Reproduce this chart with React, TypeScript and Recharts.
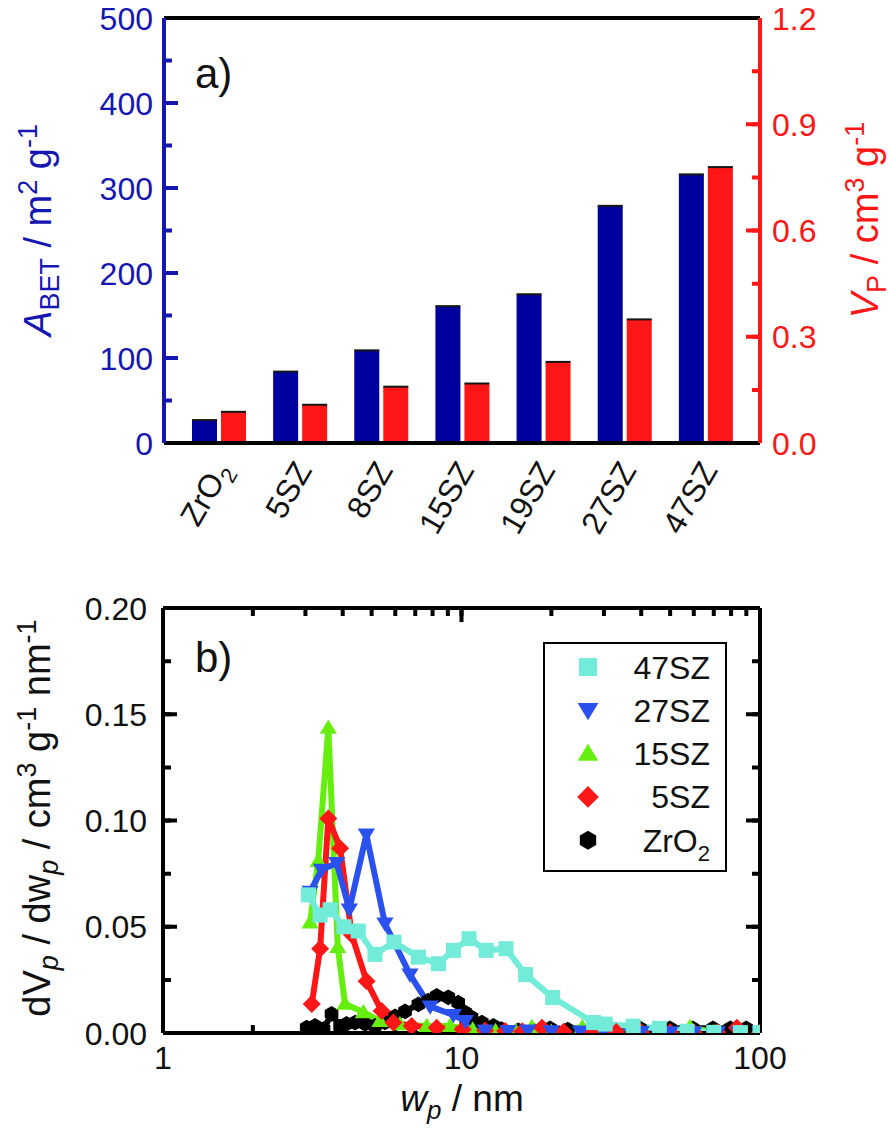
import React from "react";
import { ComposedChart, Bar, LineChart, Line, XAxis, YAxis, ReferenceLine, CartesianGrid, Legend } from "recharts";

const FONT = '"Liberation Sans", Arial, Helvetica, sans-serif';
const NAVY = "#00009e";
const BLUE_TXT = "#1616b0";
const RED = "#ff1616";
const CYAN = "#72ecd8";
const BLUE = "#2a50ee";
const GREEN = "#66ee10";

// ---- panel a: BET area / pore volume per sample
const SAMPLES = ["ZrO2", "5SZ", "8SZ", "15SZ", "19SZ", "27SZ", "47SZ"];
const A_BET = [27, 84, 109, 161, 175, 279, 316];
const V_P = [0.088, 0.108, 0.159, 0.168, 0.229, 0.349, 0.779];
const A_TICKS = [0, 50, 100, 150, 200, 250, 300, 350, 400, 450, 500];
const A_MAJOR = [0, 100, 200, 300, 400, 500];
const V_TICKS = [0, 0.15, 0.3, 0.45, 0.6, 0.75, 0.9, 1.05, 1.2];
const V_MAJOR = [0, 0.3, 0.6, 0.9, 1.2];

// ---- panel b: pore size distributions
const W_47 = [3.07, 3.36, 3.63, 4.04, 4.51, 5.13, 5.94, 7.17, 8.37, 9.39, 10.6, 12.1, 14.1, 16.4, 20.2, 27.7, 30.3, 37.6, 46, 57, 70, 86, 100];
const V_47 = [0.065, 0.0555, 0.058, 0.05, 0.048, 0.037, 0.0428, 0.0357, 0.0326, 0.0389, 0.0444, 0.0389, 0.0397, 0.0275, 0.0167, 0.0049, 0.0042, 0.0032, 0.0022, 0.0008, 0.0003, 0.0002, 0.0002];
const W_27 = [3.11, 3.4, 3.82, 4.21, 4.8, 5.54, 6.72, 7.85, 9.39, 10.3, 12.0, 14.3, 16.7, 20, 25, 30, 40, 50, 60, 72, 85, 100];
const V_27 = [0.0665, 0.0768, 0.08, 0.0581, 0.0934, 0.0515, 0.0275, 0.0125, 0.0085, 0.0057, 0.0012, 0.001, 0.0012, 0.0008, 0.0007, 0.0006, 0.0005, 0.0004, 0.0003, 0.0003, 0.0002, 0.0002];
const W_15 = [3.11, 3.31, 3.58, 3.85, 4.07, 4.69, 5.33, 6.22, 7.65, 9.15, 10.9, 13.0, 15.2, 17.2, 20.0, 25.4, 30, 40, 50, 58.3, 70, 85, 100];
const V_15 = [0.052, 0.081, 0.1436, 0.0405, 0.0138, 0.0098, 0.0057, 0.0041, 0.0033, 0.0033, 0.0016, 0.001, 0.0008, 0.0028, 0.0006, 0.0028, 0.0005, 0.0004, 0.0004, 0.0028, 0.0003, 0.0003, 0.0002];
const W_5 = [3.15, 3.36, 3.58, 3.92, 4.29, 4.81, 5.4, 5.91, 6.81, 8.26, 10.1, 12.0, 14.0, 16.0, 18.6, 22.0, 27.0, 33.0, 40.0, 50.0, 60.0, 72.0, 83.7, 100];
const V_5 = [0.0136, 0.0397, 0.101, 0.087, 0.0462, 0.0243, 0.0104, 0.0049, 0.0033, 0.0025, 0.0017, 0.0012, 0.001, 0.0008, 0.0025, 0.0006, 0.0005, 0.0005, 0.0004, 0.0004, 0.0003, 0.0003, 0.0025, 0.0002];
const W_0 = [3.03, 3.23, 3.45, 3.67, 3.92, 4.12, 4.4, 4.75, 5.13, 5.54, 5.99, 6.47, 7.17, 7.74, 8.26, 9.03, 9.75, 10.3, 10.8, 11.7, 12.8, 13.6, 15.5, 17.5, 19.8, 22.7, 29.5, 39.6, 49.9, 59.5, 69.6, 79.5, 89.9];
const V_0 = [0.0025, 0.0033, 0.0018, 0.009, 0.003, 0.0043, 0.0049, 0.0043, 0.0033, 0.005, 0.0078, 0.0102, 0.0135, 0.0152, 0.0175, 0.0168, 0.0143, 0.0096, 0.0073, 0.0049, 0.0033, 0.0018, 0.0012, 0.001, 0.0022, 0.0016, 0.0022, 0.0022, 0.0022, 0.0022, 0.0022, 0.0022, 0.0022];
const X_TICKS = [1, 2, 3, 4, 5, 6, 7, 8, 9, 10, 20, 30, 40, 50, 60, 70, 80, 90, 100];
const X_MAJOR = [1, 10, 100];
const Y_TICKS = [0, 0.025, 0.05, 0.075, 0.1, 0.125, 0.15, 0.175, 0.2];
const Y_MAJOR = [0, 0.05, 0.1, 0.15, 0.2];

const LEGEND_ORDER = ["47SZ", "27SZ", "15SZ", "5SZ", "ZrO2"];

// plot box of panel a (chart coords) and panel b (chart coords, chart b sits at top 560)
const AL = 164, AR = 760, AT = 18, AB = 443;
const BL = 163, BR = 760, BT = 48, BB = 473;
const AX_H = 30, AX_W = 40;
const MINOR = 8, MAJOR = 14, LW = 4;
const AW = AR - AL, BW = BR - BL, BH = BB - BT;

const barRows = SAMPLES.map((name, i) => ({ name, a: A_BET[i], v: V_P[i] }));
const pts = (w: number[], v: number[]) => w.map((x, i) => ({ w: x, v: v[i] }));

const SERIES = [
  { name: "ZrO2", data: pts(W_0, V_0), color: "#000", shape: "hex" },
  { name: "15SZ", data: pts(W_15, V_15), color: GREEN, shape: "up" },
  { name: "5SZ", data: pts(W_5, V_5), color: RED, shape: "diamond" },
  { name: "27SZ", data: pts(W_27, V_27), color: BLUE, shape: "down" },
  { name: "47SZ", data: pts(W_47, V_47), color: CYAN, shape: "square" },
];

function Mark({ shape, cx, cy, fill, s }: { shape: string; cx: number; cy: number; fill: string; s: number }) {
  if (cx == null || cy == null) return null;
  const h = s / 2;
  if (shape === "square") return <rect x={cx - h} y={cy - h} width={s} height={s} fill={fill} />;
  if (shape === "down") return <path d={`M${cx - h * 1.15},${cy - h * 0.8} L${cx + h * 1.15},${cy - h * 0.8} L${cx},${cy + h * 1.1} Z`} fill={fill} />;
  if (shape === "up") return <path d={`M${cx - h * 1.15},${cy + h * 0.8} L${cx + h * 1.15},${cy + h * 0.8} L${cx},${cy - h * 1.1} Z`} fill={fill} />;
  if (shape === "diamond") return <path d={`M${cx},${cy - h * 1.2} L${cx + h * 1.2},${cy} L${cx},${cy + h * 1.2} L${cx - h * 1.2},${cy} Z`} fill={fill} />;
  const p = [90, 150, 210, 270, 330, 30].map((a) => {
    const r = (a * Math.PI) / 180;
    return `${cx + h * 1.05 * Math.cos(r)},${cy - h * 1.05 * Math.sin(r)}`;
  });
  return <polygon points={p.join(" ")} fill={fill} />;
}

const EdgedBar = (props: any) => {
  const { x, y, width, height, fill } = props;
  return (
    <g>
      <rect x={x} y={y} width={width} height={height} fill={fill} />
      <rect x={x} y={y - 1} width={width} height={2} fill="#151515" />
    </g>
  );
};

const Blank = () => <g />;

const SampleTick = ({ x, payload }: any) => {
  const tx = Number(x) + 13, ty = AB + 27;
  const name = payload.value as string;
  return (
    <text x={tx} y={ty} transform={`rotate(-60, ${tx}, ${ty})`} textAnchor="end" fontSize={32} fill="#111">
      {name === "ZrO2" ? (
        <>
          <tspan>ZrO</tspan>
          <tspan dy={8} fontSize={22}>2</tspan>
        </>
      ) : name}
    </text>
  );
};

const LeftLabelA = ({ y, payload }: any) => (
  <text x={AL - 11} y={y} dy="0.36em" textAnchor="end" fontSize={32} fill={BLUE_TXT}>{payload.value}</text>
);

const RightLabelA = ({ y, payload }: any) => (
  <text x={AR + 12} y={y} dy="0.36em" textAnchor="start" fontSize={32} fill={RED}>{(payload.value as number).toFixed(1)}</text>
);

const XLabelB = ({ x, payload }: any) => (
  <text x={x} y={BB + 36} textAnchor="middle" fontSize={32} fill="#111">{payload.value}</text>
);

const YLabelB = ({ y, payload }: any) => (
  <text x={BL - 16} y={y} dy="0.36em" textAnchor="end" fontSize={32} fill="#111">{(payload.value as number).toFixed(2)}</text>
);

function LegendBox() {
  return (
    <svg width={184} height={230} style={{ display: "block" }}>
      <rect x={1} y={1} width={182} height={228} fill="#fff" stroke="#000" strokeWidth={2} />
      {LEGEND_ORDER.map((n, i) => {
        const s = SERIES.find((d) => d.name === n)!;
        const cy = 25 + i * 43.3;
        return (
          <g key={n}>
            <Mark shape={s.shape} cx={45} cy={cy} fill={s.color} s={18} />
            <text x={167} y={cy} dy="0.36em" textAnchor="end" fontSize={32} fill="#111">
              {n === "ZrO2" ? (
                <>
                  <tspan>ZrO</tspan>
                  <tspan dy={9} fontSize={22}>2</tspan>
                </>
              ) : n}
            </text>
          </g>
        );
      })}
    </svg>
  );
}

function Titles() {
  return (
    <svg width={892} height={1147} style={{ position: "absolute", left: 0, top: 0, pointerEvents: "none" }}>
      <text x={195} y={88} fontSize={42} fill="#111">a)</text>
      <text x={195} y={672} fontSize={42} fill="#111">b)</text>
      <text x={51} y={230} transform="rotate(-90, 51, 230)" textAnchor="middle" fontSize={38} fill={BLUE_TXT}>
        <tspan fontStyle="italic">A</tspan>
        <tspan dy={8} fontSize={27}>BET</tspan>
        <tspan dy={-8}>{" / m"}</tspan>
        <tspan dy={-14} fontSize={27}>2</tspan>
        <tspan dy={14}>{" g"}</tspan>
        <tspan dy={-14} fontSize={27}>-1</tspan>
      </text>
      <text x={878} y={220} transform="rotate(-90, 878, 220)" textAnchor="middle" fontSize={38} fill={RED}>
        <tspan fontStyle="italic">V</tspan>
        <tspan dy={8} fontSize={27}>P</tspan>
        <tspan dy={-8}>{" / cm"}</tspan>
        <tspan dy={-14} fontSize={27}>3</tspan>
        <tspan dy={14}>{" g"}</tspan>
        <tspan dy={-14} fontSize={27}>-1</tspan>
      </text>
      <text x={50} y={818} transform="rotate(-90, 50, 818)" textAnchor="middle" fontSize={38} fill="#111">
        <tspan>dV</tspan>
        <tspan dy={8} fontSize={27} fontStyle="italic">p</tspan>
        <tspan dy={-8}>{" / dw"}</tspan>
        <tspan dy={8} fontSize={27} fontStyle="italic">p</tspan>
        <tspan dy={-8}>{" / cm"}</tspan>
        <tspan dy={-14} fontSize={27}>3</tspan>
        <tspan dy={14}>{" g"}</tspan>
        <tspan dy={-14} fontSize={27}>-1</tspan>
        <tspan dy={14}>{" nm"}</tspan>
        <tspan dy={-14} fontSize={27}>-1</tspan>
      </text>
      <text x={462} y={1111} textAnchor="middle" fontSize={37} fill="#111">
        <tspan fontStyle="italic">w</tspan>
        <tspan dy={8} fontSize={26} fontStyle="italic">p</tspan>
        <tspan dy={-8}>{" / nm"}</tspan>
      </text>
    </svg>
  );
}

// zero-size axes used only as tick sources for the inward tick marks (drawn as dashed grid lines)
const yTickSrc = (id: string, side: "left" | "right", domain: number[], ticks: number[]) => (
  <YAxis key={id} yAxisId={id} orientation={side} mirror width={0} domain={domain} ticks={ticks} interval={0}
    allowDataOverflow axisLine={false} tickLine={false} tick={<Blank />} />
);
const xTickSrc = (id: string, ticks: number[]) => (
  <XAxis key={id} xAxisId={id} mirror height={0} type="number" scale="log" domain={[1, 100]} allowDataOverflow
    dataKey="w" ticks={ticks} interval={0} axisLine={false} tickLine={false} tick={<Blank />} />
);

// dash patterns: a short dash at one or both ends of each grid line
const leftOnly = (len: number) => `${len} 3000`;
const rightOnly = (len: number, span: number) => `0 ${span - len} ${len} 3000`;
const bothEnds = (len: number, span: number) => `${len} ${span - 2 * len} ${len} 3000`;

export default function App() {
  return (
    <div style={{ position: "absolute", left: 0, top: 0, width: 892, height: 1147, background: "#fff", fontFamily: FONT }}>
      <div style={{ position: "absolute", left: 0, top: 0 }}>
        <ComposedChart width={892} height={560} data={barRows} barGap={4} barSize={25}
          margin={{ top: AT, right: 892 - AR - AX_W, bottom: 560 - AB - AX_H, left: AL - AX_W }}>
          <XAxis dataKey="name" height={AX_H} interval={0} padding={{ left: 14, right: 14 }}
            axisLine={{ stroke: "#000", strokeWidth: LW }} tickLine={false} tick={<SampleTick />} />
          <YAxis yAxisId="l" width={AX_W} domain={[0, 500]} ticks={A_MAJOR} interval={0}
            axisLine={{ stroke: BLUE_TXT, strokeWidth: LW }} tickLine={false} tick={<LeftLabelA />} />
          <YAxis yAxisId="r" orientation="right" width={AX_W} domain={[0, 1.2]} ticks={V_MAJOR} interval={0}
            axisLine={{ stroke: RED, strokeWidth: LW }} tickLine={false} tick={<RightLabelA />} />
          {yTickSrc("lmin", "left", [0, 500], A_TICKS)}
          {yTickSrc("rmin", "right", [0, 1.2], V_TICKS)}
          <CartesianGrid yAxisId="lmin" vertical={false} stroke={BLUE_TXT} strokeWidth={LW} strokeDasharray={leftOnly(MINOR)} />
          <CartesianGrid yAxisId="l" vertical={false} stroke={BLUE_TXT} strokeWidth={LW} strokeDasharray={leftOnly(MAJOR)} />
          <CartesianGrid yAxisId="rmin" vertical={false} stroke={RED} strokeWidth={LW} strokeDasharray={rightOnly(MINOR, AW)} />
          <CartesianGrid yAxisId="r" vertical={false} stroke={RED} strokeWidth={LW} strokeDasharray={rightOnly(MAJOR, AW)} />
          <ReferenceLine yAxisId="l" y={500} stroke="#000" strokeWidth={LW} />
          <Bar yAxisId="l" dataKey="a" fill={NAVY} shape={EdgedBar} isAnimationActive={false} />
          <Bar yAxisId="r" dataKey="v" fill={RED} shape={EdgedBar} isAnimationActive={false} />
        </ComposedChart>
      </div>
      <div style={{ position: "absolute", left: 0, top: 560 }}>
        <LineChart width={892} height={587} margin={{ top: BT, right: 892 - BR, bottom: 587 - BB - AX_H, left: BL - AX_W }}>
          <XAxis dataKey="w" type="number" scale="log" domain={[1, 100]} allowDataOverflow ticks={X_MAJOR} interval={0}
            height={AX_H} axisLine={{ stroke: "#000", strokeWidth: LW }} tickLine={false} tick={<XLabelB />} />
          {xTickSrc("xmin", X_TICKS)}
          <YAxis width={AX_W} domain={[0, 0.2]} ticks={Y_MAJOR} interval={0} allowDataOverflow
            axisLine={{ stroke: "#000", strokeWidth: LW }} tickLine={false} tick={<YLabelB />} />
          {yTickSrc("ymin", "left", [0, 0.2], Y_TICKS)}
          <CartesianGrid yAxisId="ymin" vertical={false} stroke="#000" strokeWidth={LW} strokeDasharray={bothEnds(MINOR, BW)} />
          <CartesianGrid vertical={false} stroke="#000" strokeWidth={LW} strokeDasharray={bothEnds(MAJOR, BW)} />
          <CartesianGrid xAxisId="xmin" horizontal={false} stroke="#000" strokeWidth={LW} strokeDasharray={bothEnds(MINOR, BH)} />
          <CartesianGrid horizontal={false} stroke="#000" strokeWidth={LW} strokeDasharray={bothEnds(MAJOR, BH)} />
          <ReferenceLine y={0.2} stroke="#000" strokeWidth={LW} />
          <ReferenceLine x={100} stroke="#000" strokeWidth={LW} />
          {SERIES.map((s) => (
            <Line key={s.name} data={s.data} dataKey="v" type="linear" stroke={s.color} strokeWidth={6}
              legendType="none" activeDot={false} isAnimationActive={false}
              dot={(p: any) => <Mark key={`${s.name}-${p.index}`} shape={s.shape} cx={p.cx} cy={p.cy} fill={s.color} s={15} />} />
          ))}
          <Legend layout="horizontal" verticalAlign="middle" align="center" content={() => <LegendBox />}
            wrapperStyle={{ left: 543, top: 82, width: 184, height: 230 }} />
        </LineChart>
      </div>
      <Titles />
    </div>
  );
}
